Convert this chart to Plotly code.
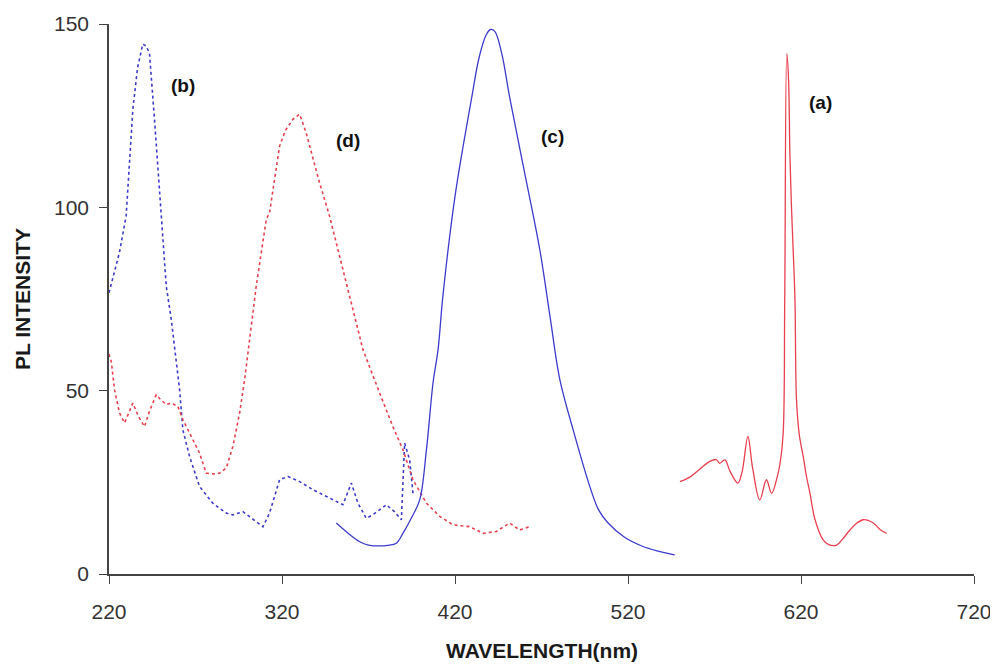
import plotly.graph_objects as go

# (a) red solid
a_x = [550, 556, 562, 567.3, 571, 573, 576, 579, 583.5, 586, 589.3, 592, 596.2, 600, 603, 606, 607.9, 609.7, 610.6, 611.8, 612.8, 613.6, 614.5, 615.5, 616.5, 617.4, 619, 621.3, 623, 625.2, 628, 632.8, 636, 640.6, 644, 648.3, 652, 656, 661.8, 666, 669.5]
a_y = [25.2, 26.5, 28.8, 30.7, 31.2, 30.2, 31.1, 28, 24.8, 28, 37.5, 29, 20.2, 25.7, 22, 26, 30.2, 38.4, 75, 142, 135, 114, 100, 88, 75, 47.5, 38, 32, 27, 22, 15, 9.3, 8, 7.9, 9.5, 12, 13.8, 14.8, 13.9, 12, 11.1]

# (b) blue dotted
b_x = [220, 223, 226, 229.9, 233.8, 236.5, 239.5, 241.5, 243.4, 246.3, 250.2, 253.1, 256, 260.8, 262.7, 266.6, 272.3, 280, 287.8, 291.6, 297.4, 301.3, 309, 312.8, 318.6, 323.4, 330.2, 337.9, 346, 355.2, 360.1, 363.9, 368.7, 372, 376.4, 380.3, 385, 389, 390.9, 393.8, 395.7]
b_y = [76.7, 82, 87.6, 97.6, 126.8, 138, 144.5, 144, 142, 124, 98.5, 78.5, 69.4, 50.3, 39.3, 32, 23.9, 19.3, 16.6, 16.1, 17, 15.7, 12.9, 16.6, 25.7, 26.6, 25.2, 23, 21, 18.9, 24.8, 19.3, 15.2, 16, 17.5, 18.9, 17, 14.8, 35.7, 31.1, 22]

# (c) blue solid
c_x = [351.4, 358, 364.9, 370, 376.4, 381, 386.1, 389.9, 395, 399.6, 403.5, 407.3, 410.2, 413, 420, 429.5, 434, 438, 440.5, 443, 447, 451.6, 460, 469, 475, 480.6, 488.3, 497.9, 503, 508.5, 518, 528.7, 538, 547]
c_y = [13.9, 11.2, 8.8, 7.9, 7.65, 7.8, 8.4, 11.1, 15.5, 20.2, 33.9, 52.1, 61.2, 75.8, 103, 129.5, 141, 147, 148.5, 148, 142, 130, 110, 88.5, 70, 53, 39.3, 23.9, 17.5, 13.9, 10, 7.5, 6.2, 5.2]

# (d) red dotted
d_x = [220, 221.3, 223.2, 226, 229, 233.8, 237, 240.5, 243.4, 247.3, 250, 253.1, 256, 259.8, 262.7, 268.5, 272.3, 276.2, 280, 283.9, 287.8, 291.6, 295.5, 298.4, 305.1, 310.9, 312.8, 318.6, 322, 326.3, 330.2, 333.9, 341.7, 347.5, 353.3, 359.1, 366.8, 376.4, 384.1, 389.9, 395.7, 403.5, 411.2, 418.9, 428.5, 436.3, 443.9, 451.6, 457.4, 463.2]
d_y = [60, 58, 50.3, 44, 41.2, 46.6, 43, 40.2, 44.4, 48.9, 47.5, 46.2, 46.6, 45.7, 42.1, 36.6, 33, 27.5, 27.3, 27.5, 28.9, 34.8, 43.9, 53, 78.5, 96.7, 98.5, 116.7, 121, 124, 125.4, 120.4, 106.7, 97.6, 86.7, 75.8, 61.2, 49.4, 40.2, 33.9, 25.7, 19.3, 15.7, 13.4, 12.9, 11.1, 11.6, 13.9, 12, 12.9]

label_text = ["(b)", "(d)", "(c)", "(a)"]
label_x = [262.8, 358.3, 476.5, 631.5]
label_y = [133.3, 118.1, 119.4, 128.7]

x_ticks = [220, 320, 420, 520, 620, 720]
y_ticks = [0, 50, 100, 150]

RED = "#e8404f"
BLUE = "#3c3ccc"
FONT = "Liberation Sans, Arial"

fig = go.Figure()
fig.add_trace(go.Scatter(x=b_x, y=b_y, mode="lines", line=dict(color=BLUE, width=1.6, dash="dot"), name="(b)"))
fig.add_trace(go.Scatter(x=d_x, y=d_y, mode="lines", line=dict(color=RED, width=1.6, dash="dot"), name="(d)"))
fig.add_trace(go.Scatter(x=c_x, y=c_y, mode="lines", line=dict(color=BLUE, width=1.3), line_shape="spline", name="(c)"))
fig.add_trace(go.Scatter(x=a_x, y=a_y, mode="lines", line=dict(color=RED, width=1.3), line_shape="spline", name="(a)"))

for t, x, y in zip(label_text, label_x, label_y):
    fig.add_annotation(x=x, y=y, text="<b>" + t + "</b>", showarrow=False,
                       font=dict(family=FONT, size=19, color="#111"))

# axis titles
fig.add_annotation(xref="paper", yref="paper", x=0.5, y=0, yshift=-76, yanchor="middle",
                   text="<b>WAVELENGTH(nm)</b>", showarrow=False,
                   font=dict(family=FONT, size=21, color="#1a1a1a"))
fig.add_annotation(xref="paper", yref="paper", x=0, y=0.5, xshift=-87, xanchor="center",
                   text="<b>PL INTENSITY</b>", textangle=-90, showarrow=False,
                   font=dict(family=FONT, size=21, color="#1a1a1a"))

# page body has an 8px margin, so the figure is offset by 8px right/down in the window
fig.update_layout(
    width=998, height=665,
    margin=dict(l=101, r=32, t=16, b=99, autoexpand=False),
    paper_bgcolor="white", plot_bgcolor="white",
    showlegend=False,
    font=dict(family=FONT, size=21, color="#333"),
)
fig.update_xaxes(
    range=[220, 720], tickvals=x_ticks, showgrid=False, zeroline=False,
    showline=True, linecolor="#444", linewidth=1.5,
    ticks="outside", ticklen=8, tickcolor="#444", ticklabelstandoff=10,
    automargin=False,
)
fig.update_yaxes(
    range=[0, 150], tickvals=y_ticks, showgrid=False, zeroline=False,
    showline=True, linecolor="#444", linewidth=1.5,
    ticks="outside", ticklen=8, tickcolor="#444", ticklabelstandoff=6,
    automargin=False,
)

fig.write_html("out.html")
